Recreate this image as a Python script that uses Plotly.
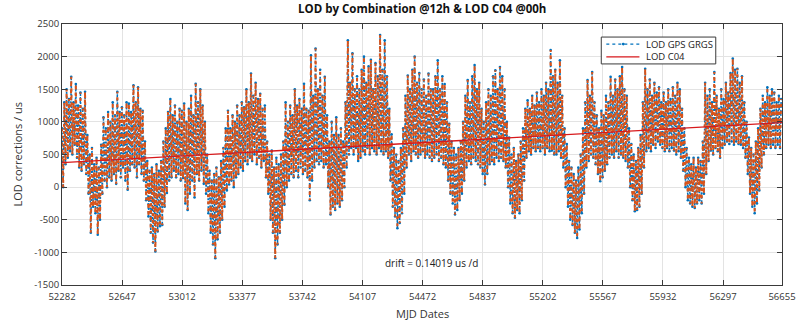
import plotly.graph_objects as go

# ---------------- data ----------------
start_mjd = 52282
end_mjd = 56655
half_cycle_days = 7  # a high value, then a low value 7 days later (fortnightly swing)

# upper swing of the GPS LOD series (us), one value per 14-day cycle
lod_high = [
    900, 1300, 1500, 1350, 1690, 1300, 1580, 1250, 1450, 1200, 1460, 800, 500, 600, 350, 450, 300, 650,
    1070, 900, 1150, 1000, 1300, 1100, 1460, 1150, 1225, 1100, 1300, 1280, 1150, 1560, 1300, 1530, 1200,
    1170, 700, 400, 250, 300, 200, 350, 250, 400, 700, 900, 1150, 1350, 1100, 1250, 1000, 1200, 1170,
    1280, 1000, 1200, 1400, 1100, 1585, 1300, 1500, 1250, 1000, 500, 250, 100, 200, 300, 150, 400, 600,
    900, 1170, 900, 1100, 1000, 1250, 1100, 1300, 1225, 1500, 1300, 1740, 1400, 1600, 1350, 1430, 1200,
    1250, 700, 500, 560, 300, 450, 350, 500, 700, 1300, 1000, 1250, 1100, 1500, 1250, 1350, 1200, 1585, 1200,
    1170, 2020, 1400, 2125, 1500, 1800, 1400, 1690, 1100, 700, 1000, 800, 1070, 800, 900, 700, 1300, 2250,
    1600, 2050, 1500, 1700, 1500, 1800, 2000, 1600, 1850, 1950, 1500, 1900, 1700, 2330, 1800, 2250, 1700,
    1200, 810, 600, 500, 400, 600, 900, 1400, 1710, 1500, 1800, 2000, 1600, 1750, 1500, 1650, 1400, 1740, 1500,
    1500, 1700, 1945, 1500, 1700, 1580, 1300, 970, 700, 600, 500, 600, 700, 1000, 1400, 1640, 1300, 1700,
    1870, 1500, 1600, 1200, 1000, 1300, 1500, 1400, 1700, 1790, 1500, 1840, 1700, 1500, 1000, 760, 500, 600,
    400, 500, 700, 900, 1200, 1330, 1200, 1400, 1250, 1450, 1300, 1500, 1400, 1600, 1500, 2100, 1700,
    1800, 1600, 1945, 1400, 900, 660, 400, 300, 200, 100, 300, 500, 900, 1300, 1640, 1400, 1765, 1300,
    1100, 900, 1170, 1100, 1400, 1300, 1690, 1400, 1650, 1500, 1700, 1840, 1500, 1400, 900, 660, 500, 400,
    600, 800, 1300, 1815, 1500, 1650, 1400, 1600, 1450, 1530, 1300, 1450, 1300, 1500, 1350, 1530, 1400, 1600,
    1500, 1200, 900, 600, 450, 350, 450, 300, 450, 400, 700, 1600, 1400, 1500, 1300, 1765, 1400, 1200,
    1500, 1350, 1600, 1450, 1750, 1970, 1800, 1815, 1600, 1700, 1300, 1000, 760, 600, 500, 700, 900, 1200,
    1400, 1300, 1530, 1400, 1500, 1450, 1300, 1400, 1350,
]

# lower swing of the GPS LOD series (us), 7 days after each high
lod_low = [
    0, 350, 450, 550, 500, 650, 450, 300, 250, 350, 200, -100, -700, -300, -400, -730, -500, -100,
    100, 0, 150, 100, 200, 50, 250, 150, 300, 100, -40, 250, 350, 300, 150, 350, 200,
    100, -200, -450, -700, -850, -985, -680, -600, -580, -300, -90, 100, 150, 250, 150, 200, 100, 140,
    -250, -350, -100, 100, -160, 200, 100, 250, 50, -100, -400, -700, -880, -1090, -800, -700, -500, -300,
    -50, 40, 100, 0, 150, 200, 300, 250, 400, 350, 450, 400, 500, 350, 450, 300, 400,
    150, -100, -500, -700, -1090, -880, -700, -500, -270, 0, 100, 200, 150, 250, 150, 300, 200, 250, 150,
    -200, 100, 300, 400, 350, 400, 300, 350, 0, -420, -300, -350, -250, -300, -200, 0, 300, 500,
    600, 500, 600, 400, 450, 550, 500, 600, 500, 600, 550, 500, 600, 550, 500, 550, 450,
    100, -300, -450, -630, -550, -400, -100, 300, 500, 400, 550, 500, 450, 500, 550, 450, 500, 450, 400,
    450, 500, 400, 450, 350, 300, 100, -100, -250, -420, -350, -200, -100, 100, 300, 400, 350, 450,
    400, 350, 300, 200, 40, 200, 350, 400, 350, 450, 400, 450, 400, 300, 0, -250, -400, -470,
    -350, -400, -200, 100, 450, 550, 500, 600, 550, 600, 550, 600, 500, 600, 550, 560, 500,
    500, 550, 450, 300, 0, -300, -500, -580, -700, -780, -650, -400, -100, 300, 400, 500, 450, 350,
    200, 90, 150, 250, 350, 450, 500, 450, 550, 450, 500, 450, 400, 300, 0, -200, -370, -350,
    -300, -100, 300, 550, 600, 550, 650, 600, 700, 650, 600, 550, 600, 550, 600, 560, 500, 550,
    450, 250, 0, -200, -250, -300, -320, -250, -200, -250, -100, 200, 400, 560, 500, 600, 550, 450,
    600, 650, 700, 660, 700, 650, 700, 660, 650, 600, 450, 200, -100, -300, -400, -250, -50, 300,
    500, 600, 650, 600, 650, 600, 650, 600, 620,
]

# drift line (linear fit, 0.14019 us/d)
trend_mjd = [52282, 56655]
trend_lod = [375, 988]
drift_text = "drift = 0.14019 us /d"

legend_names = ["LOD GPS GRGS", "LOD C04"]

x_tick_vals = [52282, 52647, 53012, 53377, 53742, 54107, 54472, 54837, 55202, 55567, 55932, 56297, 56655]
y_tick_vals = [-1500, -1000, -500, 0, 500, 1000, 1500, 2000, 2500]

# ---------------- build the sampled series ----------------
mjd, lod = [], []
for k, (hi, lo) in enumerate(zip(lod_high, lod_low)):
    t = start_mjd + 2 * half_cycle_days * k
    if t <= end_mjd:
        mjd.append(t)
        lod.append(hi)
    if t + half_cycle_days <= end_mjd:
        mjd.append(t + half_cycle_days)
        lod.append(lo)

BLUE = "#0072BD"
ORANGE = "#D95319"
RED = "#D7191C"
AX = "#3a3a3a"
FONT = "Open Sans"

fig = go.Figure()

fig.add_trace(go.Scatter(
    x=mjd, y=lod, mode="lines+markers", name=legend_names[0], showlegend=False,
    line=dict(color=BLUE, width=1.5, dash="2px,2px"),
    marker=dict(color=BLUE, size=2.6),
))
fig.add_trace(go.Scatter(
    x=mjd, y=lod, mode="lines", name="LOD C04 daily", showlegend=False,
    line=dict(color=ORANGE, width=2.0, dash="3px,4px"),
))
fig.add_trace(go.Scatter(
    x=trend_mjd, y=trend_lod, mode="lines", name=legend_names[1], showlegend=False,
    line=dict(color=RED, width=1.3),
))

axis_common = dict(
    showline=True, linecolor=AX, linewidth=1, mirror="allticks",
    ticks="inside", ticklen=5, tickcolor=AX,
    showgrid=True, gridcolor="#e3e3e3", gridwidth=1,
    zeroline=False,
    tickfont=dict(family=FONT, size=9.5, color="#333333"),
)

# compact MATLAB-like legend box (paper coordinates of the plot area)
lg_x0, lg_x1, lg_y0, lg_y1 = 0.749, 0.908, 0.847, 0.950
row_y = [0.923, 0.874]
smp_x0, smp_x1, txt_x = 0.756, 0.802, 0.809

shapes = [
    dict(type="rect", xref="paper", yref="paper", x0=lg_x0, x1=lg_x1, y0=lg_y0, y1=lg_y1,
         fillcolor="white", line=dict(color=AX, width=1), layer="above"),
    dict(type="line", xref="paper", yref="paper", x0=smp_x0, x1=smp_x1, y0=row_y[0], y1=row_y[0],
         line=dict(color=BLUE, width=1.2, dash="dot"), layer="above"),
    dict(type="circle", xref="paper", yref="paper", x0=0.7775, x1=0.7815, y0=row_y[0] - 0.0055,
         y1=row_y[0] + 0.0055, fillcolor=BLUE, line=dict(color=BLUE, width=0), layer="above"),
    dict(type="line", xref="paper", yref="paper", x0=smp_x0, x1=smp_x1, y0=row_y[1], y1=row_y[1],
         line=dict(color=RED, width=1.3), layer="above"),
]

annotations = [
    dict(text="<b>LOD by Combination @12h & LOD C04 @00h</b>", xref="paper", yref="paper",
         x=0.5, y=1.0, yshift=16, xanchor="center", yanchor="middle", showarrow=False,
         font=dict(family=FONT, size=11.5, color="#111111")),
    dict(text="MJD Dates", xref="paper", yref="paper", x=0.5, y=0, yshift=-28,
         xanchor="center", yanchor="middle", showarrow=False,
         font=dict(family=FONT, size=11, color="#333333")),
    dict(text="LOD corrections / us", xref="paper", yref="paper", x=0, xshift=-45, y=0.5,
         xanchor="center", yanchor="middle", textangle=-90, showarrow=False,
         font=dict(family=FONT, size=11, color="#333333")),
    dict(text=drift_text, xref="paper", yref="paper", x=0.513, y=0.084,
         xanchor="center", yanchor="middle", showarrow=False,
         font=dict(family=FONT, size=10, color="#222222")),
]
for name, yy in zip(legend_names, row_y):
    annotations.append(dict(text=name, xref="paper", yref="paper", x=txt_x, y=yy,
                            xanchor="left", yanchor="middle", showarrow=False,
                            font=dict(family=FONT, size=9.5, color="#222222")))

fig.update_layout(
    width=808, height=324,
    margin=dict(l=62, r=17, t=24, b=39),
    paper_bgcolor="white", plot_bgcolor="white",
    font=dict(family=FONT, color="#222222"),
    showlegend=False,
    xaxis=dict(range=[52282, 56655], tickvals=x_tick_vals, ticklabelstandoff=3,
               ticktext=[str(v) for v in x_tick_vals], **axis_common),
    yaxis=dict(range=[-1500, 2500], tickvals=y_tick_vals,
               ticktext=[str(v) for v in y_tick_vals], **axis_common),
    shapes=shapes,
    annotations=annotations,
)

fig.write_html(
    "out.html",
    config={"displayModeBar": False},
    post_script="document.body.style.margin='0px';document.body.style.overflow='hidden';",
)
